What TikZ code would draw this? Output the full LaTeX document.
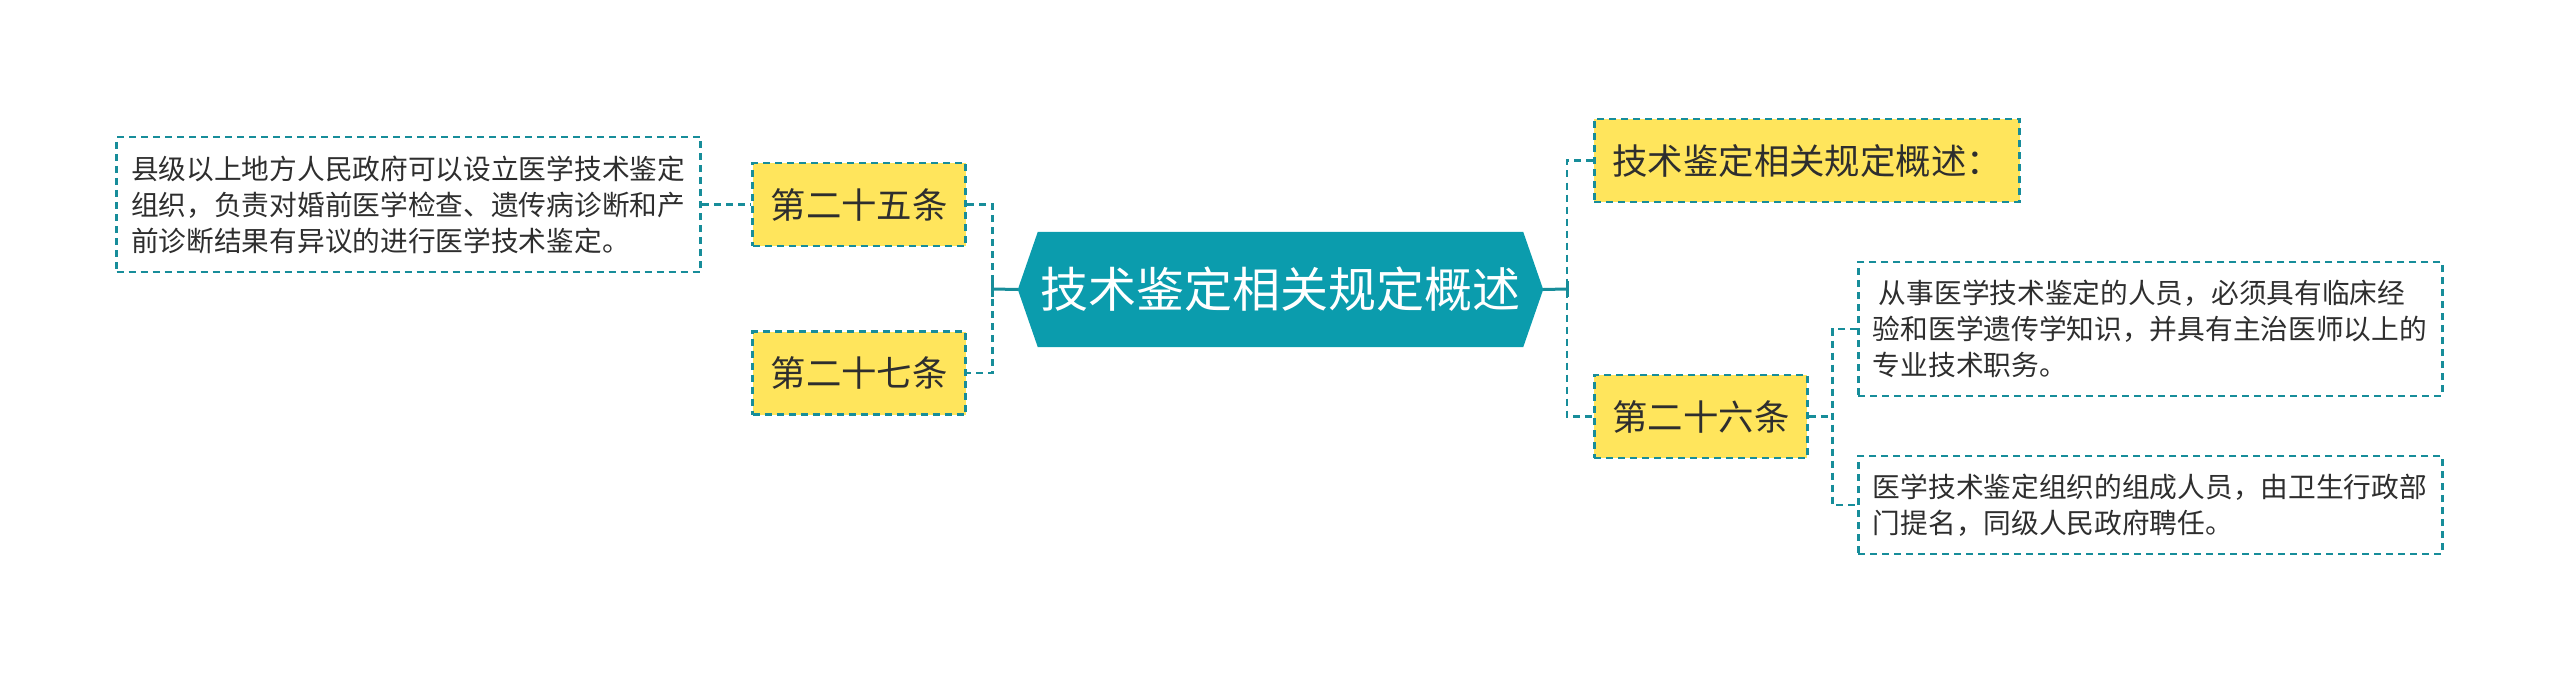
\documentclass[tikz,border=0pt]{standalone}
\usepackage{fontspec}
\setmainfont{Noto Sans CJK SC}
\usetikzlibrary{backgrounds}
\definecolor{lineteal}{HTML}{178D9A}
\definecolor{rootfill}{HTML}{0B9CAD}
\definecolor{boxyellow}{HTML}{FFE55C}
\definecolor{txtdark}{HTML}{2E2E2E}
\tikzset{
  dashline/.style={draw=lineteal, line width=2.8pt, dash pattern=on 7pt off 5pt},
  solidline/.style={draw=lineteal, line width=3pt},
  rootnode/.style={inner sep=0pt, minimum width=525pt, minimum height=115pt, text=white,
    font=\fontsize{48}{58}\selectfont},
  topicbox/.style={dashline, fill=boxyellow, inner xsep=18pt, inner ysep=0pt, minimum height=83pt,
    text=txtdark, font=\fontsize{35.4}{42}\selectfont},
  leafbox/.style={dashline, fill=white, inner xsep=14.5pt, inner ysep=0pt, text width=555pt, align=left,
    text=txtdark, font=\fontsize{27.7}{36}\selectfont},
}
\begin{document}
\begin{tikzpicture}[x=1pt, y=-1pt]
\useasboundingbox (0,0) rectangle (2560,674);
% root
\node[rootnode] (root) at (1280.5,289.5) {技术鉴定相关规定概述};
\begin{scope}[on background layer]
\fill[rootfill] (root.west) -- ([xshift=20pt]root.north west) -- ([xshift=-20pt]root.north east)
  -- (root.east) -- ([xshift=-20pt]root.south east) -- ([xshift=20pt]root.south west) -- cycle;
\end{scope}
% left side
\node[topicbox, anchor=east] (n25) at (967,204.5) {第二十五条};
\node[topicbox, anchor=east] (n27) at (967,373) {第二十七条};
\node[leafbox, anchor=east, minimum height=135pt] (leafL) at (702,204.5)
  {县级以上地方人民政府可以设立医学技术鉴定\\组织，负责对婚前医学检查、遗传病诊断和产\\前诊断结果有异议的进行医学技术鉴定。};
% right side
\node[topicbox, anchor=west] (nT) at (1593,160.5) {技术鉴定相关规定概述：};
\node[topicbox, anchor=west] (n26) at (1593,416.5) {第二十六条};
\node[leafbox, anchor=west, minimum height=134pt] (leafR1) at (1857,329)
  {\hspace{6pt}从事医学技术鉴定的人员，必须具有临床经\\验和医学遗传学知识，并具有主治医师以上的\\专业技术职务。};
\node[leafbox, anchor=west, minimum height=98pt] (leafR2) at (1857,505)
  {医学技术鉴定组织的组成人员，由卫生行政部\\门提名，同级人民政府聘任。};
% junctions
\coordinate (jl) at (992.5,289);
\coordinate (jr) at (1567,289);
\coordinate (jr2) at (1832.5,416.5);
% connectors
\draw[dashline] (leafL.east) -- (n25.west);
\draw[dashline] (n25.east) -- (jl |- n25.east) -- (jl |- n27.east) -- (n27.east);
\draw[solidline] (jl) -- (root.west);
\draw[solidline] ([yshift=-8pt]jl) -- ([yshift=8pt]jl);
\draw[dashline] (nT.west) -- (jr |- nT.west) -- (jr |- n26.west) -- (n26.west);
\draw[solidline] (root.east) -- (jr);
\draw[solidline] ([yshift=-8pt]jr) -- ([yshift=8pt]jr);
\draw[dashline] (n26.east) -- (jr2);
\draw[dashline] (leafR1.west) -- (jr2 |- leafR1.west) -- (jr2 |- leafR2.west) -- (leafR2.west);
\end{tikzpicture}
\end{document}
